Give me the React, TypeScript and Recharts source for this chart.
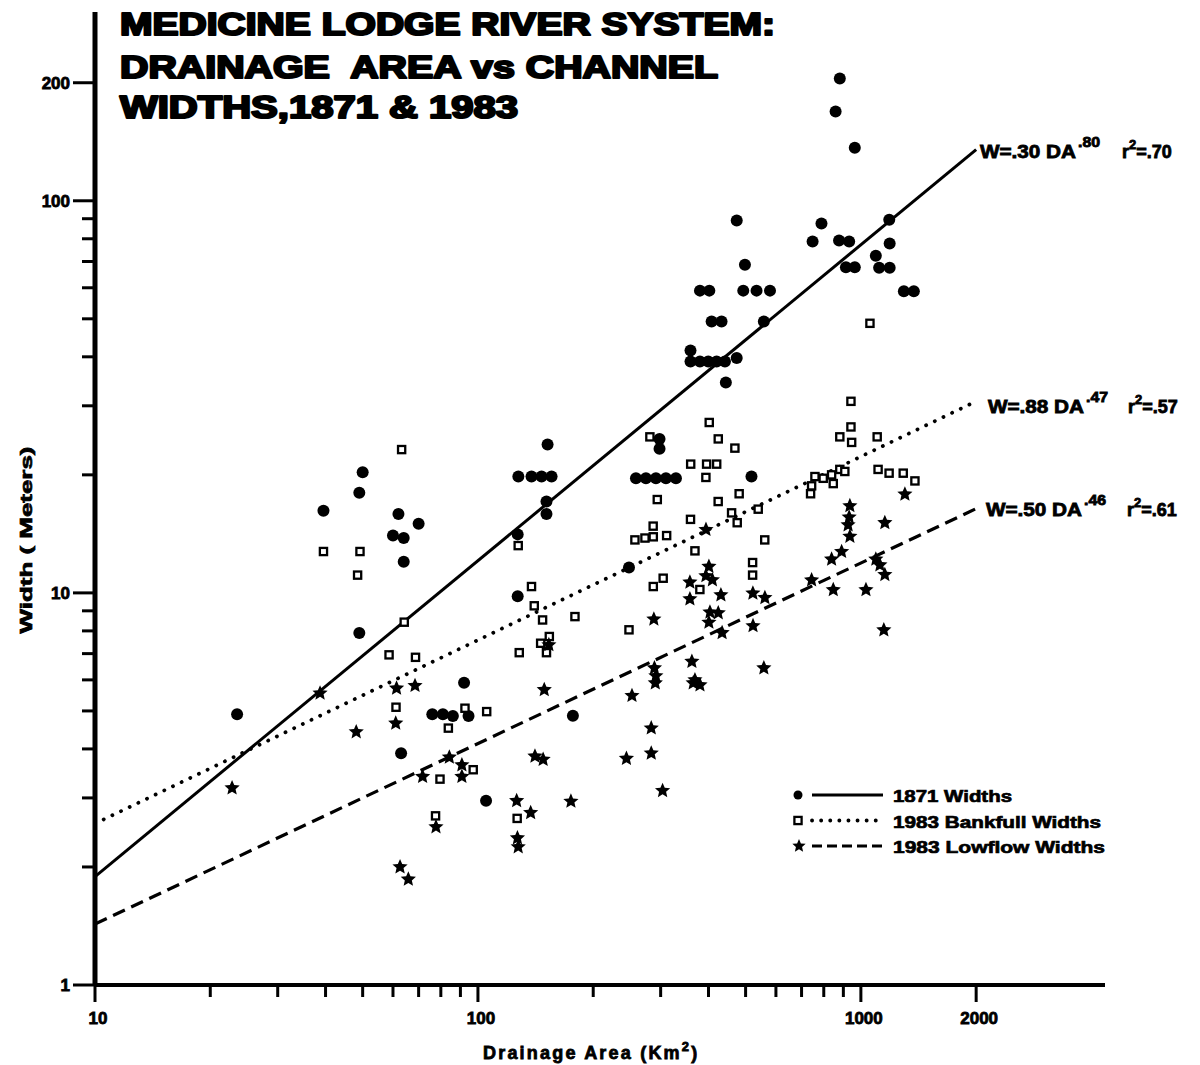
import React from "react";
import { ScatterChart, Scatter, XAxis, YAxis, Legend } from "recharts";

const FONT = '"Liberation Sans", Arial, Helvetica, sans-serif';

// [drainage area km², width m]
const widths1871: [number, number][] = [
  [23.5, 4.9], [39.5, 16.2], [49, 18.0], [50, 20.3], [49, 7.9], [60, 14.0],
  [62, 15.9], [64, 13.8], [64, 12.0], [70, 15.0], [63, 3.9], [76, 4.9],
  [81, 4.9], [86, 4.85], [92, 5.9], [94.5, 4.85], [105, 2.95], [127, 14.1],
  [127, 9.8], [127.5, 19.8], [138, 19.8], [146.6, 19.8], [155.7, 19.8],
  [152, 23.9], [151, 17.1], [151, 15.9], [177, 4.86], [248, 11.6],
  [258.6, 19.6], [274.6, 19.6], [291.6, 19.6], [309.7, 19.6], [328.9, 19.6],
  [298, 24.7], [298, 23.3], [359, 41.5], [359, 38.9], [380, 38.9],
  [399.4, 38.9], [420, 38.9], [441.6, 38.9], [474, 39.7], [444, 34.4],
  [380, 59.0], [402, 59.0], [407.6, 49.2], [432.7, 49.2], [474, 89.1],
  [498, 68.7], [493, 59.0], [534, 59.0], [579, 59.0], [558, 49.2],
  [518, 19.8], [748, 78.7], [789, 87.5], [881, 205], [859, 169],
  [964, 136.5], [877, 79.2], [932, 78.7], [914, 67.7], [964, 67.7],
  [1186, 89.4], [1189, 77.8], [1094, 72.4], [1116, 67.5], [1189, 67.5],
  [1295, 58.8], [1375, 58.8],
];

const bankfull1983: [number, number][] = [
  [63.2, 23.2], [39.5, 12.75], [49.2, 12.75], [48.5, 11.1], [64.2, 8.42],
  [58.6, 6.95], [68.7, 6.85], [61.1, 5.11], [92.5, 5.08], [105.4, 4.98],
  [83.7, 4.52], [97.2, 3.54], [79.6, 3.35], [77.5, 2.7], [127.4, 13.2],
  [138, 10.38], [140.3, 9.27], [147.5, 8.53], [179.2, 8.7], [145.8, 7.44],
  [153.6, 7.74], [151, 7.04], [128.2, 7.04], [126.6, 2.66], [248, 8.05],
  [401.8, 27.2], [424.2, 24.7], [468.8, 23.4], [281.2, 25.0], [359.4, 21.3],
  [395.5, 21.3], [420.2, 21.3], [393.8, 19.7], [294, 17.3], [424, 17.1],
  [481, 17.9], [359, 15.4], [459.6, 16.0], [475.4, 15.1], [539.4, 16.35],
  [743.6, 18.75], [739, 17.9], [286.8, 14.8], [257, 13.65], [273, 13.8],
  [287, 13.9], [311, 14.0], [368.7, 12.8], [561, 13.65], [521.5, 11.95],
  [521.5, 11.1], [287, 10.38], [304.6, 10.9], [379.8, 10.2], [1056, 48.7],
  [942, 30.8], [942, 26.5], [881, 25.0], [946, 24.2], [1103, 25.0],
  [1109, 20.65], [1185, 20.2], [1290, 20.2], [1384, 19.3], [758.6, 19.8],
  [797.4, 19.6], [838.6, 20.0], [847, 19.0], [881, 20.65], [908, 20.4],
];

const lowflow1983: [number, number][] = [
  [22.8, 3.18], [38.7, 5.55], [48.1, 4.42], [61.3, 5.71], [61, 4.65],
  [68.5, 5.8], [62.6, 2.0], [65.8, 1.86], [71.7, 3.4], [84.2, 3.81],
  [90.8, 3.64], [90.8, 3.4], [77.7, 2.53], [126.2, 2.95], [126.8, 2.37],
  [127.4, 2.25], [137.3, 2.75], [140.9, 3.83], [148, 3.76], [149, 5.66],
  [153.2, 7.37], [174.9, 2.94], [244.2, 3.78], [283.5, 4.52], [283.5, 3.9],
  [303.5, 3.13], [252.5, 5.47], [288, 8.57], [289, 6.43], [291.5, 6.14],
  [290.5, 5.89], [362, 6.68], [364.8, 5.89], [380, 5.82], [368.7, 6.0],
  [394, 14.5], [401, 11.67], [393.8, 11.05], [409.5, 10.79], [357.7, 10.64],
  [357.7, 9.65], [431, 9.88], [403.5, 8.93], [424.2, 8.89], [401, 8.41],
  [434.1, 7.91], [522.4, 9.98], [561.5, 9.72], [522.8, 8.24], [558, 6.43],
  [743.6, 10.78], [838.6, 12.18], [890.6, 12.74], [847, 10.18], [936, 16.67],
  [932, 15.6], [926, 14.9], [936, 13.93], [1031, 10.18], [1094, 12.18],
  [1121, 11.78], [1155, 11.13], [1155, 15.09], [1148, 8.04], [1303, 17.85],
];

// regression line end points
const fit1871: [number, number][] = [[10, 1.89], [2000, 135]];
const fitBankfull: [number, number][] = [[10, 2.58], [2000, 30.8]];
const fitLowflow: [number, number][] = [[10, 1.43], [2000, 16.4]];

const areaTicks = [10, 20, 30, 40, 50, 60, 70, 80, 90, 100, 200, 300, 400, 500, 600, 700, 800, 900, 1000, 2000];
const areaLabels = [10, 100, 1000, 2000];
const widthTicks = [1, 2, 3, 4, 5, 6, 7, 8, 9, 10, 20, 30, 40, 50, 60, 70, 80, 90, 100, 200];
const widthLabels = [1, 10, 100, 200];

const toPoints = (rows: [number, number][]) => rows.map(([area, width]) => ({ area, width }));

const PLOT_LEFT = 95;
const PLOT_BOTTOM = 985;
const STAR_R = 8;

const solidLine = { stroke: "#000", strokeWidth: 3 };
const dottedLine = { stroke: "#000", strokeWidth: 3.8, strokeDasharray: "0.1 9.5", strokeLinecap: "round" };
const dashedLine = { stroke: "#000", strokeWidth: 3.2, strokeDasharray: "13 7" };

const Dot = ({ cx, cy }: any) => <circle cx={cx} cy={cy} r={6} fill="#000" />;

const Box = ({ cx, cy }: any) => (
  <rect x={cx - 3.6} y={cy - 3.6} width={7.2} height={7.2} fill="#fff" stroke="#000" strokeWidth={2.3} />
);

const starPoints = (cx: number, cy: number, outer: number) => {
  const pts: string[] = [];
  for (let i = 0; i < 10; i++) {
    const a = ((-90 + i * 36) * Math.PI) / 180;
    const r = i % 2 ? outer * 0.46 : outer;
    pts.push(`${cx + r * Math.cos(a)},${cy + r * Math.sin(a)}`);
  }
  return pts.join(" ");
};

const Star = ({ cx, cy }: any) => <polygon points={starPoints(cx, cy, STAR_R)} fill="#000" />;

const NoMark = () => <g />;

const AreaTick = ({ x, payload }: any) => {
  const major = areaLabels.includes(payload.value);
  return (
    <g>
      <line x1={x} x2={x} y1={PLOT_BOTTOM} y2={PLOT_BOTTOM + (major ? 17 : 12)} stroke="#000" strokeWidth={3} />
      {major && (
        <text x={x + 3} y={PLOT_BOTTOM + 39} textAnchor="middle" fontFamily={FONT} fontWeight="bold" fontSize={17} fill="#000" stroke="#000" strokeWidth={0.8}>
          {payload.value}
        </text>
      )}
    </g>
  );
};

const WidthTick = ({ y, payload }: any) => {
  const major = widthLabels.includes(payload.value);
  return (
    <g>
      <line x1={PLOT_LEFT} x2={PLOT_LEFT - (major ? 22 : 13)} y1={y} y2={y} stroke="#000" strokeWidth={3} />
      {major && (
        <text x={PLOT_LEFT - 25} y={y + 6} textAnchor="end" fontFamily={FONT} fontWeight="bold" fontSize={17} fill="#000" stroke="#000" strokeWidth={0.8}>
          {payload.value}
        </text>
      )}
    </g>
  );
};

const legendRows = [
  { label: "1871 Widths", mark: "dot", line: solidLine, textWidth: 119 },
  { label: "1983 Bankfull Widths", mark: "box", line: { ...dottedLine, strokeDasharray: "0.1 9" }, textWidth: 208 },
  { label: "1983 Lowflow Widths", mark: "star", line: { ...dashedLine, strokeDasharray: "10 5" }, textWidth: 212 },
];

const renderLegend = () => (
  <svg width={330} height={80}>
    {legendRows.map((row, i) => {
      const cy = 15 + i * 25.5;
      return (
        <g key={row.label}>
          {row.mark === "dot" && <circle cx={8} cy={cy} r={4.5} fill="#000" />}
          {row.mark === "box" && <Box cx={8} cy={cy} />}
          {row.mark === "star" && <polygon points={starPoints(9, cy, 7)} fill="#000" />}
          <line x1={22} x2={93} y1={cy} y2={cy} {...(row.line as any)} />
          <text
            x={103}
            y={cy + 7}
            fontFamily={FONT}
            fontWeight="bold"
            fontSize={17}
            textLength={row.textWidth}
            lengthAdjust="spacingAndGlyphs"
            fill="#000"
            stroke="#000"
            strokeWidth={0.7}
          >
            {row.label}
          </text>
        </g>
      );
    })}
  </svg>
);

const equations = [
  { coef: "W=.30 DA", exp: ".80", r2: "=.70", x: 980, y: 158, rx: 1122 },
  { coef: "W=.88 DA", exp: ".47", r2: "=.57", x: 988, y: 413, rx: 1128 },
  { coef: "W=.50 DA", exp: ".46", r2: "=.61", x: 986, y: 516, rx: 1127 },
];

const titleLines = [
  { text: "MEDICINE LODGE RIVER SYSTEM:", y: 35, width: 655 },
  { text: "DRAINAGE  AREA vs CHANNEL", y: 78, width: 598 },
  { text: "WIDTHS,1871 & 1983", y: 118, width: 398 },
];

export default function App() {
  return (
    <div style={{ position: "absolute", left: 0, top: 0, width: 1200, height: 1065, background: "#fff" }}>
      <ScatterChart width={1200} height={1065} margin={{ top: 12, right: 95, bottom: 50, left: 35 }}>
        <XAxis
          type="number"
          dataKey="area"
          scale="log"
          domain={[10, 4340]}
          ticks={areaTicks}
          interval={0}
          tick={AreaTick}
          tickLine={false}
          tickSize={0}
          height={30}
          axisLine={{ stroke: "#000", strokeWidth: 4 }}
          allowDataOverflow
        />
        <YAxis
          type="number"
          dataKey="width"
          scale="log"
          domain={[1, 303]}
          ticks={widthTicks}
          interval={0}
          tick={WidthTick}
          tickLine={false}
          tickSize={0}
          width={60}
          axisLine={{ stroke: "#000", strokeWidth: 5 }}
          allowDataOverflow
        />
        <Scatter data={toPoints(fit1871)} line={solidLine} shape={NoMark} legendType="none" isAnimationActive={false} />
        <Scatter data={toPoints(fitBankfull)} line={dottedLine} shape={NoMark} legendType="none" isAnimationActive={false} />
        <Scatter data={toPoints(fitLowflow)} line={dashedLine} shape={NoMark} legendType="none" isAnimationActive={false} />
        <Scatter name="1871 Widths" data={toPoints(widths1871)} shape={Dot} isAnimationActive={false} />
        <Scatter name="1983 Bankfull Widths" data={toPoints(bankfull1983)} shape={Box} isAnimationActive={false} />
        <Scatter name="1983 Lowflow Widths" data={toPoints(lowflow1983)} shape={Star} isAnimationActive={false} />
        <Legend
          layout="horizontal"
          verticalAlign="middle"
          content={renderLegend}
          wrapperStyle={{ left: 790, top: 780, width: 330, height: 80 }}
        />
      </ScatterChart>

      <svg width={1200} height={1065} style={{ position: "absolute", left: 0, top: 0, pointerEvents: "none" }}>
        {titleLines.map((l) => (
          <text
            key={l.text}
            x={120}
            y={l.y}
            fontFamily={FONT}
            fontWeight="bold"
            fontSize={31}
            textLength={l.width}
            lengthAdjust="spacingAndGlyphs"
            fill="#000"
            stroke="#000"
            strokeWidth={2.2}
            strokeLinejoin="round"
            xmlSpace="preserve"
          >
            {l.text}
          </text>
        ))}

        {equations.map((e) => (
          <g key={e.coef} fontFamily={FONT} fontWeight="bold" fill="#000" stroke="#000" strokeWidth={0.8}>
            <text x={e.x} y={e.y} fontSize={18} textLength={96} lengthAdjust="spacingAndGlyphs">
              {e.coef}
            </text>
            <text x={e.x + 98} y={e.y - 11} fontSize={14} textLength={22} lengthAdjust="spacingAndGlyphs">
              {e.exp}
            </text>
            <text x={e.rx} y={e.y} fontSize={18}>
              r<tspan dy={-9} fontSize={13}>2</tspan>
              <tspan dy={9}>{e.r2}</tspan>
            </text>
          </g>
        ))}

        <text
          transform="translate(32,540) rotate(-90)"
          textAnchor="middle"
          fontFamily={FONT}
          fontWeight="bold"
          fontSize={17}
          textLength={187}
          lengthAdjust="spacingAndGlyphs"
          fill="#000"
          stroke="#000"
          strokeWidth={0.7}
        >
          Width ( Meters)
        </text>
        <text x={483} y={1059} fontFamily={FONT} fontWeight="bold" fontSize={18} fill="#000" stroke="#000" strokeWidth={0.8} letterSpacing={2.2}>
          Drainage Area (Km<tspan dy={-8} fontSize={13}>2</tspan>
          <tspan dy={8}>)</tspan>
        </text>
      </svg>
    </div>
  );
}
